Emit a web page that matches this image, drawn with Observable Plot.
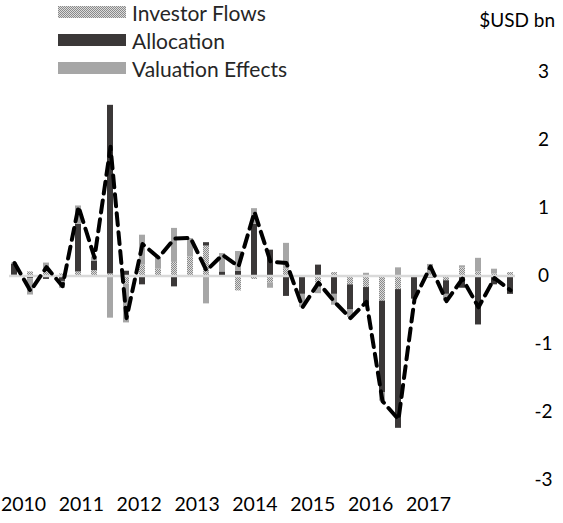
<!DOCTYPE html>
<html><head><meta charset="utf-8">
<script src="https://cdn.jsdelivr.net/npm/d3@7"></script>
<script src="https://cdn.jsdelivr.net/npm/@observablehq/plot@0.6"></script>
<style>
body{margin:0;background:#fff;font-family:Lato,"Open Sans",sans-serif;}
#wrap{position:relative;width:563px;height:523px;overflow:hidden;background:#fff;}
#wrap > * {position:absolute;}
#legend{left:58px;top:-2px;}
.row{display:flex;align-items:center;height:28px;font-size:21px;color:#262626;white-space:nowrap;}
.row svg{margin-right:6px;}
#unit{right:8px;top:8px;font-size:19px;color:#000;}
</style></head><body>
<svg width="0" height="0" style="position:absolute"><defs>
<pattern id="ifpat" width="2" height="2" patternUnits="userSpaceOnUse">
<rect width="2" height="2" fill="#dcdcdc"/>
<rect x="0" y="0" width="1" height="1" fill="#8a8a8a"/>
<rect x="1" y="1" width="1" height="1" fill="#8a8a8a"/>
</pattern></defs></svg>
<div id="wrap"></div>
<script>
const quarters = ["2010Q1","2010Q2","2010Q3","2010Q4","2011Q1","2011Q2","2011Q3","2011Q4",
  "2012Q1","2012Q2","2012Q3","2012Q4","2013Q1","2013Q2","2013Q3","2013Q4",
  "2014Q1","2014Q2","2014Q3","2014Q4","2015Q1","2015Q2","2015Q3","2015Q4",
  "2016Q1","2016Q2","2016Q3","2016Q4","2017Q1","2017Q2","2017Q3","2017Q4"];
const investorFlows = [0.01,0.06,0.10,0.03,0.06,0.08,0.03,-0.12,
  0.16,0.10,0.20,0.28,0.44,0.00,-0.22,-0.05,
  -0.10,0.10,0.00,-0.12,0.05,-0.13,-0.17,-0.37,
  -0.20,-0.02,0.02,-0.07,0.12,0.06,0.03,0.05];
const allocation = [0.16,-0.04,-0.05,-0.08,0.70,0.14,2.48,0.07,
  -0.13,0.00,-0.16,0.00,0.05,0.06,0.07,0.76,
  0.38,-0.30,-0.27,0.16,-0.27,-0.37,-0.25,-1.35,
  -2.04,-0.32,-0.03,-0.20,-0.18,-0.72,-0.13,-0.27];
const valuationEffects = [0.02,-0.24,0.09,-0.10,0.27,0.06,-0.62,-0.57,
  0.44,0.17,0.50,0.27,-0.41,0.27,0.29,0.23,
  -0.08,0.38,-0.19,-0.14,-0.16,-0.11,0.04,-0.12,
  0.12,0.00,0.15,-0.10,0.03,0.20,0.07,0.00];
const netChange = [0.19,-0.22,0.13,-0.15,1.02,0.27,1.90,-0.62,
  0.47,0.27,0.55,0.56,0.08,0.31,0.14,0.94,
  0.21,0.19,-0.46,-0.10,-0.38,-0.62,-0.38,-1.84,
  -2.11,-0.34,0.14,-0.37,-0.04,-0.46,-0.03,-0.21];
const seriesNames = ["Investor Flows","Allocation","Valuation Effects"];
const seriesFills = ["url(#ifpat)","#3b3838","#a6a6a6"];
const yearLabels = [2010,2011,2012,2013,2014,2015,2016,2017];
const yTicks = [-3,-2,-1,0,1,2,3];
const unitLabel = "$USD bn";

const seriesValues = [investorFlows, allocation, valuationEffects];
const rows = quarters.flatMap((q,i) => seriesNames.map((s,k) => ({q, series:s, v:seriesValues[k][i]})));
const net = quarters.map((q,i) => ({q, v:netChange[i]}));

const wrap = document.getElementById("wrap");

const chart = Plot.plot({
  width:563, height:523,
  marginLeft:9, marginRight:48, marginTop:71.5, marginBottom:43.5,
  x:{type:"band", domain:quarters, paddingInner:0.62, paddingOuter:0, axis:null},
  y:{domain:[-3,3], axis:null},
  color:{domain:seriesNames, range:seriesFills},
  style:{fontFamily:"Lato, 'Open Sans', sans-serif", fontSize:"19px", color:"#000", background:"transparent"},
  marks:[
    Plot.barY(rows, {x:"q", y:"v", fill:"series"}),
    Plot.ruleY([0], {stroke:"#d9d9d9", strokeWidth:2.5}),
    Plot.lineY(net, {x:"q", y:"v", stroke:"#000", strokeWidth:4, strokeDasharray:"12,7"}),
    Plot.axisY(yTicks, {anchor:"right", tickSize:0, tickPadding:0, dx:28, textAnchor:"middle", fontSize:19, label:null, fill:"#000", tickFormat:d => String(d)})
  ]
});
chart.style.left = "0px"; chart.style.top = "0px";
wrap.appendChild(chart);

const years = Plot.plot({
  width:563, height:40,
  marginLeft:23, marginRight:135, marginTop:10, marginBottom:30,
  x:{domain:[yearLabels[0], yearLabels[yearLabels.length-1]]},
  style:{fontFamily:"Lato, 'Open Sans', sans-serif", fontSize:"19px", color:"#000", background:"transparent"},
  marks:[
    Plot.axisX(yearLabels, {anchor:"bottom", tickSize:0, tickPadding:0, tickFormat:d => String(d), fontSize:19.5, label:null, fill:"#000"})
  ]
});
years.style.left = "0px"; years.style.top = "487px";
wrap.appendChild(years);

const legend = document.createElement("div");
legend.id = "legend";
seriesNames.forEach((s,k) => {
  const row = document.createElement("div");
  row.className = "row";
  row.innerHTML = `<svg width="68" height="12"><rect width="68" height="12" fill="${seriesFills[k]}"/></svg><span>${s}</span>`;
  legend.appendChild(row);
});
wrap.appendChild(legend);

const unit = document.createElement("div");
unit.id = "unit";
unit.textContent = unitLabel;
wrap.appendChild(unit);
</script>
</body></html>
